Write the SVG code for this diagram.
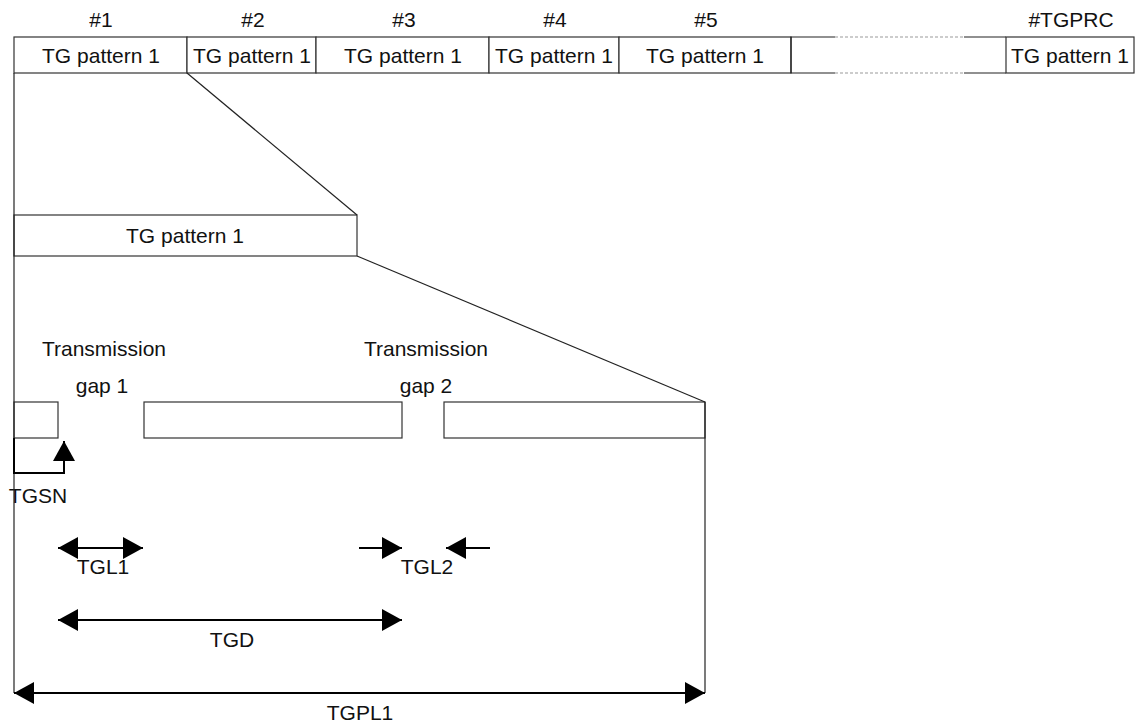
<svg xmlns="http://www.w3.org/2000/svg" width="1136" height="728" viewBox="0 0 1136 728">
<style>
text{font-family:"Liberation Sans",Arial,sans-serif;font-size:21px;fill:#111;text-anchor:middle}
.box{fill:#fff;stroke:#333;stroke-width:1.2}
.ln{stroke:#222;stroke-width:1.2;fill:none}
.ar{stroke:#000;stroke-width:2;fill:none}
.dash{stroke:#999;stroke-width:1;stroke-dasharray:3,2;fill:none}
</style>
<defs>
<marker id="ah" markerUnits="userSpaceOnUse" viewBox="0 0 20 22" refX="20" refY="11" markerWidth="20" markerHeight="22" orient="auto-start-reverse">
<path d="M0,0 L20,11 L0,22 z" fill="#000"/>
</marker>
</defs>
<rect width="1136" height="728" fill="#fff"/>
<g id="top-row">
<text x="101" y="27">#1</text>
<text x="253" y="27">#2</text>
<text x="404" y="27">#3</text>
<text x="555" y="27">#4</text>
<text x="706" y="27">#5</text>
<text x="1071" y="27">#TGPRC</text>
<g id="p1"><rect class="box" x="14" y="37" width="173" height="36"/><text x="101" y="63">TG pattern 1</text></g>
<g id="p2"><rect class="box" x="187" y="37" width="129" height="36"/><text x="252" y="63">TG pattern 1</text></g>
<g id="p3"><rect class="box" x="316" y="37" width="173" height="36"/><text x="403" y="63">TG pattern 1</text></g>
<g id="p4"><rect class="box" x="489" y="37" width="130" height="36"/><text x="554" y="63">TG pattern 1</text></g>
<g id="p5"><rect class="box" x="619" y="37" width="172" height="36"/><text x="705" y="63">TG pattern 1</text></g>
<g id="pgap">
<path class="ln" d="M835,37 H791 V73 H835 M964,37 H1006 M964,73 H1006"/>
<path class="dash" d="M835,37 H964 M835,73 H964"/>
</g>
<g id="plast"><rect class="box" x="1006" y="37" width="128" height="36"/><text x="1070" y="63">TG pattern 1</text></g>
</g>
<g id="pattern">
<rect class="box" x="14" y="215" width="343" height="41"/>
<text x="185" y="243">TG pattern 1</text>
</g>
<g id="slots">
<rect class="box" x="14" y="402" width="44" height="36"/>
<rect class="box" x="144" y="402" width="258" height="36"/>
<rect class="box" x="444" y="402" width="261" height="36"/>
</g>
<g id="labels">
<text x="104" y="356">Transmission</text>
<text x="102" y="393">gap 1</text>
<text x="426" y="356">Transmission</text>
<text x="426" y="393">gap 2</text>
<text x="38" y="503">TGSN</text>
<text x="103" y="574">TGL1</text>
<text x="427" y="574">TGL2</text>
<text x="232" y="647">TGD</text>
<text x="360" y="720">TGPL1</text>
</g>
<g id="connectors">
<path class="ln" d="M14,73 V693"/>
<path class="ln" d="M705,402 V693"/>
<path class="ln" d="M187,73 L357,215"/>
<path class="ln" d="M357,256 L705,402"/>
<path class="ar" d="M14,438 V473 H64 V441" marker-end="url(#ah)"/>
<path class="ar" d="M58,548 H143" marker-start="url(#ah)" marker-end="url(#ah)"/>
<path class="ar" d="M359,548 H402" marker-end="url(#ah)"/>
<path class="ar" d="M490,548 H446" marker-end="url(#ah)"/>
<path class="ar" d="M58,620 H402" marker-start="url(#ah)" marker-end="url(#ah)"/>
<path class="ar" d="M14,693 H705" marker-start="url(#ah)" marker-end="url(#ah)"/>
</g>
</svg>
